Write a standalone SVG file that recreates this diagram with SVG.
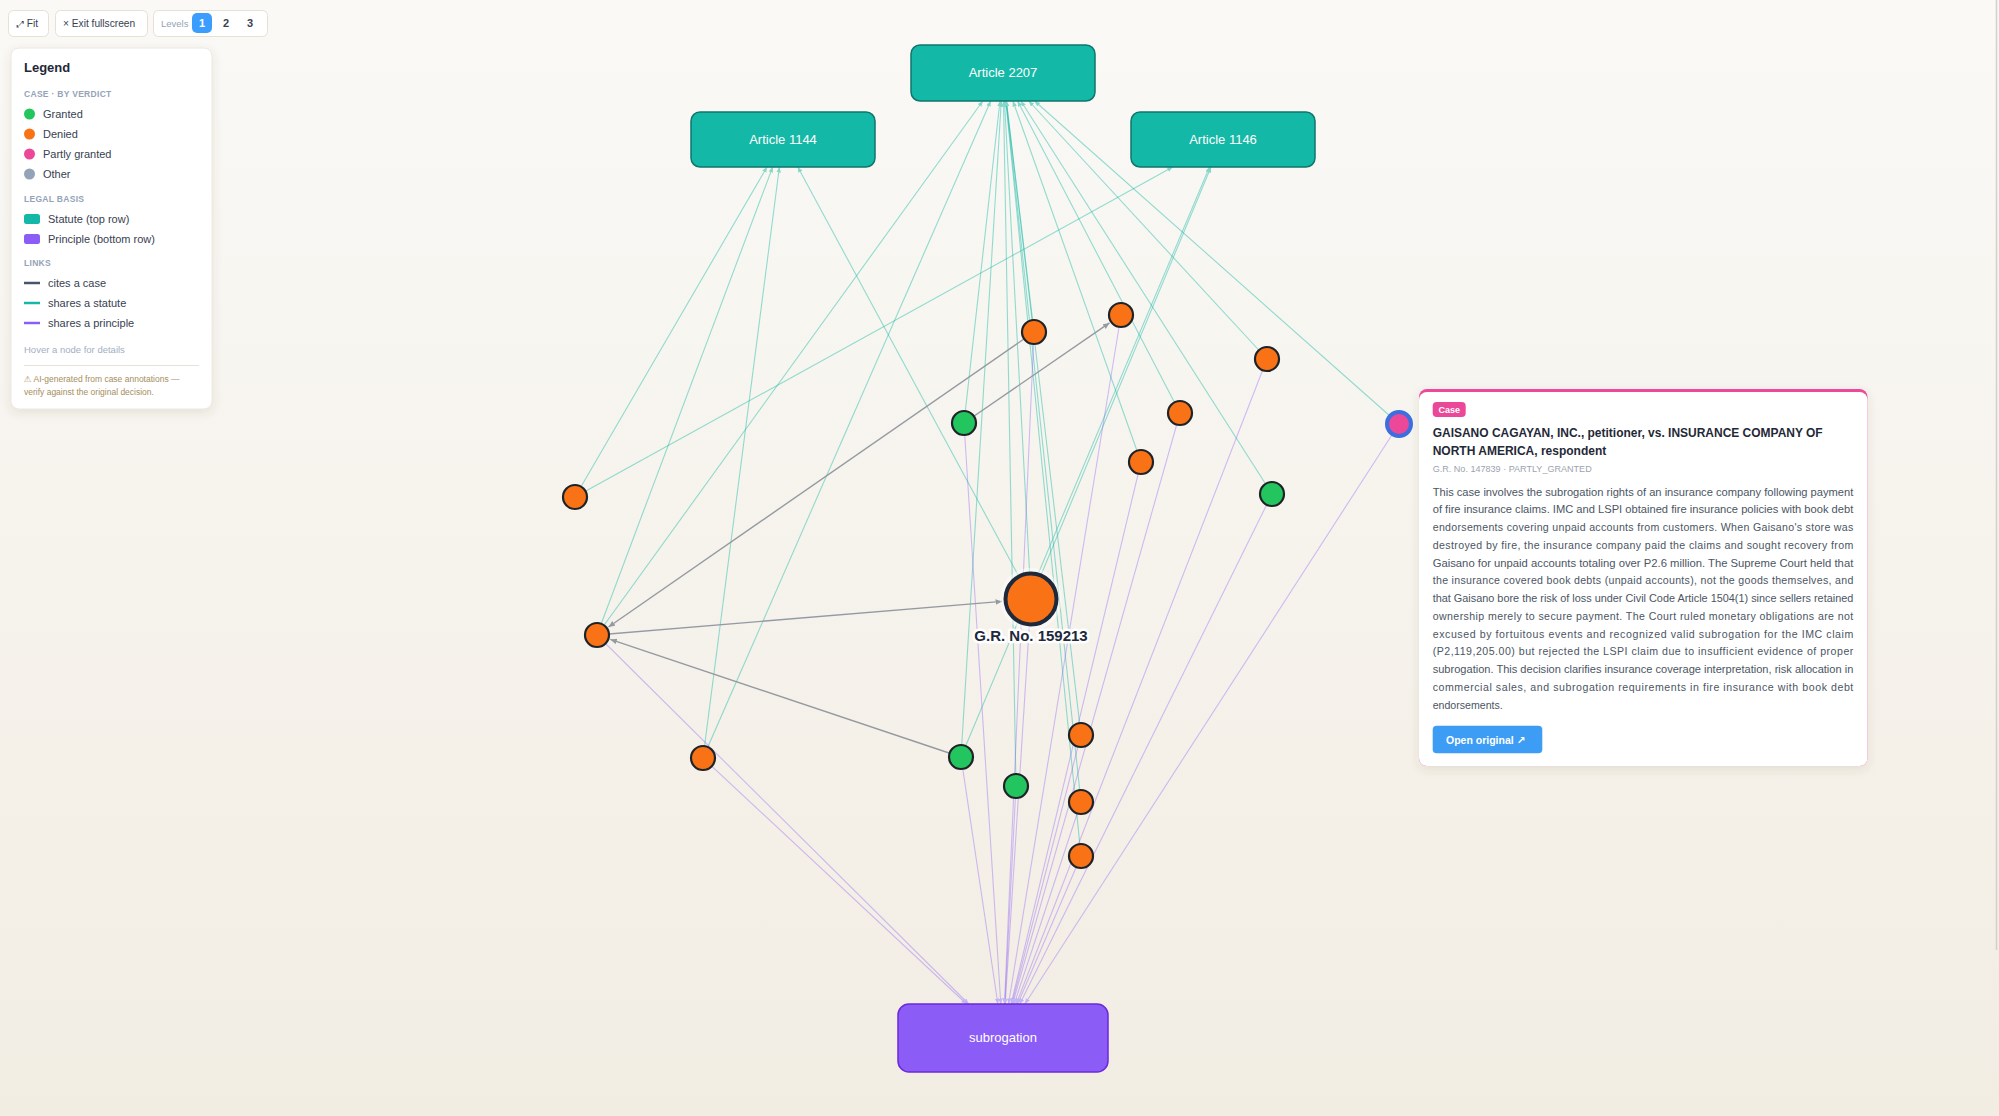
<svg xmlns="http://www.w3.org/2000/svg" width="1999" height="1116" viewBox="0 0 1999 1116">
<defs>
<linearGradient id="bg" x1="0" y1="0" x2="0" y2="1">
<stop offset="0" stop-color="#faf9f6"/>
<stop offset="1" stop-color="#f2ede3"/>
</linearGradient>
<filter id="sh" x="-10%" y="-10%" width="120%" height="125%">
<feDropShadow dx="0" dy="3" stdDeviation="5" flood-color="#5a4a2a" flood-opacity="0.12"/>
</filter>
<marker id="aT" markerUnits="userSpaceOnUse" markerWidth="7" markerHeight="6" refX="5.5" refY="2.3" orient="auto"><path d="M0,0 L5.5,2.3 L0,4.6 z" fill="#86d7c9"/></marker>
<marker id="aP" markerUnits="userSpaceOnUse" markerWidth="7" markerHeight="6" refX="5.5" refY="2.3" orient="auto"><path d="M0,0 L5.5,2.3 L0,4.6 z" fill="#c2b6f3"/></marker>
<marker id="aG" markerUnits="userSpaceOnUse" markerWidth="8" markerHeight="7" refX="6.5" refY="2.8" orient="auto"><path d="M0,0 L6.5,2.8 L0,5.6 z" fill="#959aa2"/></marker>
<style>
text{font-family:"Liberation Sans",Arial,"DejaVu Sans",sans-serif}
.st{fill:none;stroke:#14b8a6;stroke-opacity:0.45;stroke-width:1.1;marker-end:url(#aT)}
.pr{fill:none;stroke:#8b5cf6;stroke-opacity:0.38;stroke-width:1.1;marker-end:url(#aP)}
.ci{fill:none;stroke:#959aa2;stroke-width:1.4;marker-end:url(#aG)}
.box-s{fill:#14b8a6;stroke:#0f766e;stroke-width:1.5}
.box-p{fill:#8b5cf6;stroke:#6d28d9;stroke-width:1.5}
.blab{fill:#ffffff;font-size:13px;text-anchor:middle}
.den{fill:#f97316;stroke:#1f2328;stroke-width:2.2}
.gra{fill:#22c55e;stroke:#1f2328;stroke-width:2.2}
.lt{font-size:11px;fill:#374151}
.lh{font-size:8.5px;font-weight:bold;fill:#94a3b8;letter-spacing:0.3px}
.btn{fill:#ffffff;stroke:#e6e1d7;stroke-width:1}
.bt{font-size:10.2px;fill:#374151}
.para{font-size:10.6px;fill:#4b5563}
</style>
</defs>

<rect x="0" y="0" width="1999" height="1116" fill="url(#bg)"/>
<line x1="1996.5" y1="0" x2="1996.5" y2="950" stroke="#d2d0cc" stroke-width="1.5"/>

<g id="connectors">
<!-- Article 2207 -->
<line class="st" x1="597" y1="635" x2="982.8" y2="101"/>
<line class="st" x1="703" y1="758" x2="990.7" y2="101"/>
<line class="st" x1="964" y1="423" x2="1000" y2="101"/>
<line class="st" x1="961" y1="757" x2="1001.3" y2="101"/>
<line class="st" x1="1016" y1="786" x2="1003.5" y2="101"/>
<line class="st" x1="1031" y1="599" x2="1004.5" y2="101"/>
<line class="st" x1="1034" y1="332" x2="1006.4" y2="101"/>
<line class="st" x1="1081" y1="735" x2="1006.3" y2="101"/>
<line class="st" x1="1081" y1="802" x2="1006" y2="101"/>
<line class="st" x1="1081" y1="856" x2="1005.8" y2="101"/>
<line class="st" x1="1141" y1="462" x2="1012.9" y2="101"/>
<line class="st" x1="1180" y1="413" x2="1017.6" y2="101"/>
<line class="st" x1="1267" y1="359" x2="1028.8" y2="101"/>
<line class="st" x1="1272" y1="494" x2="1020.9" y2="101"/>
<line class="st" x1="1399" y1="424" x2="1034.6" y2="101"/>
<!-- Article 1144 -->
<line class="st" x1="575" y1="497" x2="767" y2="167"/>
<line class="st" x1="597" y1="635" x2="772.7" y2="167"/>
<line class="st" x1="703" y1="758" x2="779.4" y2="167"/>
<line class="st" x1="1031" y1="599" x2="797.8" y2="167"/>
<!-- Article 1146 -->
<line class="st" x1="575" y1="497" x2="1172.7" y2="167"/>
<line class="st" x1="1031" y1="599" x2="1211" y2="167"/>
<line class="st" x1="961" y1="757" x2="1209.5" y2="167"/>
<!-- subrogation -->
<line class="pr" x1="1034" y1="332" x2="1004.5" y2="1004"/>
<line class="pr" x1="1121" y1="315" x2="1008.5" y2="1004"/>
<line class="pr" x1="1267" y1="359" x2="1016.2" y2="1004"/>
<line class="pr" x1="964" y1="423" x2="1000.8" y2="1004"/>
<line class="pr" x1="1180" y1="413" x2="1012.6" y2="1004"/>
<line class="pr" x1="1141" y1="462" x2="1011.1" y2="1004"/>
<line class="pr" x1="1272" y1="494" x2="1019.8" y2="1004"/>
<line class="pr" x1="1399" y1="424" x2="1024.9" y2="1004"/>
<line class="pr" x1="597" y1="635" x2="968.7" y2="1004"/>
<line class="pr" x1="1031" y1="599" x2="1005.2" y2="1004"/>
<line class="pr" x1="703" y1="758" x2="966.6" y2="1004"/>
<line class="pr" x1="961" y1="757" x2="997.9" y2="1004"/>
<line class="pr" x1="1016" y1="786" x2="1004.8" y2="1004"/>
<line class="pr" x1="1081" y1="735" x2="1011.8" y2="1004"/>
<line class="pr" x1="1081" y1="802" x2="1014.2" y2="1004"/>
<line class="pr" x1="1081" y1="856" x2="1017.6" y2="1004"/>
<!-- cites -->
<line class="ci" x1="1034" y1="332" x2="608.5" y2="627"/>
<line class="ci" x1="964" y1="423" x2="1109.5" y2="322.9"/>
<line class="ci" x1="597" y1="635" x2="1002.1" y2="601.4"/>
<line class="ci" x1="961" y1="757" x2="610.3" y2="639.4"/>
</g>

<g id="statute-1144"><rect class="box-s" x="691" y="112" width="184" height="55" rx="9"/><text class="blab" x="783" y="143.5">Article 1144</text></g>
<g id="statute-2207"><rect class="box-s" x="911" y="45" width="184" height="56" rx="9"/><text class="blab" x="1003" y="77">Article 2207</text></g>
<g id="statute-1146"><rect class="box-s" x="1131" y="112" width="184" height="55" rx="9"/><text class="blab" x="1223" y="143.5">Article 1146</text></g>
<g id="principle-subrogation"><rect class="box-p" x="898" y="1004" width="210" height="68" rx="11"/><text class="blab" x="1003" y="1041.5">subrogation</text></g>

<g id="case-1"><circle class="den" cx="1034" cy="332" r="12"/></g>
<g id="case-2"><circle class="den" cx="1121" cy="315" r="12"/></g>
<g id="case-3"><circle class="den" cx="1267" cy="359" r="12"/></g>
<g id="case-4"><circle class="gra" cx="964" cy="423" r="12"/></g>
<g id="case-5"><circle class="den" cx="1180" cy="413" r="12"/></g>
<g id="case-6"><circle class="den" cx="1141" cy="462" r="12"/></g>
<g id="case-7"><circle class="gra" cx="1272" cy="494" r="12"/></g>
<g id="case-8"><circle cx="1399" cy="424" r="12" fill="#ec4899" stroke="#3b6fe0" stroke-width="4"/></g>
<g id="case-9"><circle class="den" cx="575" cy="497" r="12"/></g>
<g id="case-10"><circle class="den" cx="597" cy="635" r="12"/></g>
<g id="case-12"><circle class="den" cx="703" cy="758" r="12"/></g>
<g id="case-13"><circle class="gra" cx="961" cy="757" r="12"/></g>
<g id="case-14"><circle class="gra" cx="1016" cy="786" r="12"/></g>
<g id="case-15"><circle class="den" cx="1081" cy="735" r="12"/></g>
<g id="case-16"><circle class="den" cx="1081" cy="802" r="12"/></g>
<g id="case-17"><circle class="den" cx="1081" cy="856" r="12"/></g>
<g id="case-159213">
<circle cx="1031" cy="599" r="31" fill="#ffffff" fill-opacity="0.45"/>
<circle cx="1031" cy="599" r="25.5" fill="#f97316" stroke="#1e293b" stroke-width="4"/>
<text x="1031" y="641" text-anchor="middle" font-size="15" font-weight="bold" fill="#1e293b" stroke="#ffffff" stroke-width="5" stroke-linejoin="round" paint-order="stroke">G.R. No. 159213</text>
</g>

<g id="toolbar">
<rect class="btn" x="8.5" y="10.5" width="40" height="26" rx="5"/>
<text class="bt" x="17" y="27"><tspan font-family="DejaVu Sans" font-size="9">⤢</tspan> Fit</text>
<rect class="btn" x="55.5" y="10.5" width="92" height="26" rx="5"/>
<text class="bt" x="63" y="27">× Exit fullscreen</text>
<rect class="btn" x="153.5" y="10.5" width="114" height="26" rx="5"/>
<text x="161" y="27" font-size="9.5" fill="#94a3b8">Levels</text>
<rect x="192" y="13" width="20" height="20" rx="5" fill="#3b9eff"/>
<text x="202" y="27" font-size="11" font-weight="bold" fill="#ffffff" text-anchor="middle">1</text>
<text x="226" y="27" font-size="11" font-weight="bold" fill="#374151" text-anchor="middle">2</text>
<text x="250" y="27" font-size="11" font-weight="bold" fill="#374151" text-anchor="middle">3</text>
</g>

<g id="legend">
<rect x="11" y="48" width="201" height="361" rx="8" fill="#ffffff" stroke="#ece8e0" filter="url(#sh)"/>
<text x="24" y="72" font-size="13" font-weight="bold" fill="#1f2937">Legend</text>
<text class="lh" x="24" y="97">CASE · BY VERDICT</text>
<circle cx="29.5" cy="114" r="5.5" fill="#22c55e"/><text class="lt" x="43" y="118">Granted</text>
<circle cx="29.5" cy="134" r="5.5" fill="#f97316"/><text class="lt" x="43" y="138">Denied</text>
<circle cx="29.5" cy="154" r="5.5" fill="#ec4899"/><text class="lt" x="43" y="158">Partly granted</text>
<circle cx="29.5" cy="174" r="5.5" fill="#94a3b8"/><text class="lt" x="43" y="178">Other</text>
<text class="lh" x="24" y="202">LEGAL BASIS</text>
<rect x="24" y="214" width="16" height="10" rx="2.5" fill="#14b8a6"/><text class="lt" x="48" y="223">Statute (top row)</text>
<rect x="24" y="234" width="16" height="10" rx="2.5" fill="#8b5cf6"/><text class="lt" x="48" y="243">Principle (bottom row)</text>
<text class="lh" x="24" y="266">LINKS</text>
<line x1="24" y1="283" x2="40" y2="283" stroke="#475569" stroke-width="2.5"/><text class="lt" x="48" y="287">cites a case</text>
<line x1="24" y1="303" x2="40" y2="303" stroke="#14b8a6" stroke-width="2.5"/><text class="lt" x="48" y="307">shares a statute</text>
<line x1="24" y1="323" x2="40" y2="323" stroke="#8b5cf6" stroke-width="2.5"/><text class="lt" x="48" y="327">shares a principle</text>
<text x="24" y="353" font-size="9.5" fill="#a3afc2">Hover a node for details</text>
<line x1="24" y1="365.5" x2="199" y2="365.5" stroke="#e7e2d8" stroke-width="1"/>
<text x="24" y="382" font-size="8.5" fill="#a68d5c">⚠ AI-generated from case annotations —</text>
<text x="24" y="395" font-size="8.5" fill="#a68d5c">verify against the original decision.</text>
</g>

<g id="details-panel">
<rect x="1419" y="389" width="448.5" height="377" rx="8" fill="#ec4899" filter="url(#sh)"/>
<rect x="1419" y="392" width="448.5" height="374" rx="8" fill="#ffffff"/>
<rect x="1432.7" y="402" width="33" height="15" rx="4" fill="#ec4899"/>
<text x="1449.2" y="413" font-size="9" font-weight="bold" fill="#ffffff" text-anchor="middle">Case</text>
<text x="1432.7" y="437.3" font-size="12" font-weight="bold" fill="#1f2937" textLength="390" lengthAdjust="spacingAndGlyphs">GAISANO CAGAYAN, INC., petitioner, vs. INSURANCE COMPANY OF</text>
<text x="1432.7" y="455" font-size="12" font-weight="bold" fill="#1f2937">NORTH AMERICA, respondent</text>
<text x="1432.7" y="472" font-size="9.6" fill="#9ca3af" textLength="159" lengthAdjust="spacingAndGlyphs">G.R. No. 147839 · PARTLY_GRANTED</text>
<text class="para" x="1432.7" y="495.5" textLength="420.6" lengthAdjust="spacingAndGlyphs">This case involves the subrogation rights of an insurance company following payment</text>
<text class="para" x="1432.7" y="513.25" textLength="420.6" lengthAdjust="spacingAndGlyphs">of fire insurance claims. IMC and LSPI obtained fire insurance policies with book debt</text>
<text class="para" x="1432.7" y="531" textLength="420.6" lengthAdjust="spacing">endorsements covering unpaid accounts from customers. When Gaisano's store was</text>
<text class="para" x="1432.7" y="548.75" textLength="420.6" lengthAdjust="spacing">destroyed by fire, the insurance company paid the claims and sought recovery from</text>
<text class="para" x="1432.7" y="566.5" textLength="420.6" lengthAdjust="spacingAndGlyphs">Gaisano for unpaid accounts totaling over P2.6 million. The Supreme Court held that</text>
<text class="para" x="1432.7" y="584.25" textLength="420.6" lengthAdjust="spacing">the insurance covered book debts (unpaid accounts), not the goods themselves, and</text>
<text class="para" x="1432.7" y="602" textLength="420.6" lengthAdjust="spacingAndGlyphs">that Gaisano bore the risk of loss under Civil Code Article 1504(1) since sellers retained</text>
<text class="para" x="1432.7" y="619.75" textLength="420.6" lengthAdjust="spacing">ownership merely to secure payment. The Court ruled monetary obligations are not</text>
<text class="para" x="1432.7" y="637.5" textLength="420.6" lengthAdjust="spacing">excused by fortuitous events and recognized valid subrogation for the IMC claim</text>
<text class="para" x="1432.7" y="655.25" textLength="420.6" lengthAdjust="spacing">(P2,119,205.00) but rejected the LSPI claim due to insufficient evidence of proper</text>
<text class="para" x="1432.7" y="673" textLength="420.6" lengthAdjust="spacingAndGlyphs">subrogation. This decision clarifies insurance coverage interpretation, risk allocation in</text>
<text class="para" x="1432.7" y="690.75" textLength="420.6" lengthAdjust="spacing">commercial sales, and subrogation requirements in fire insurance with book debt</text>
<text class="para" x="1432.7" y="708.5">endorsements.</text>
<rect x="1432.7" y="725.7" width="109.6" height="27.6" rx="4" fill="#3d9df5"/>
<text x="1446" y="743.8" font-size="10.5" font-weight="bold" fill="#ffffff">Open original ↗</text>
</g>
</svg>
